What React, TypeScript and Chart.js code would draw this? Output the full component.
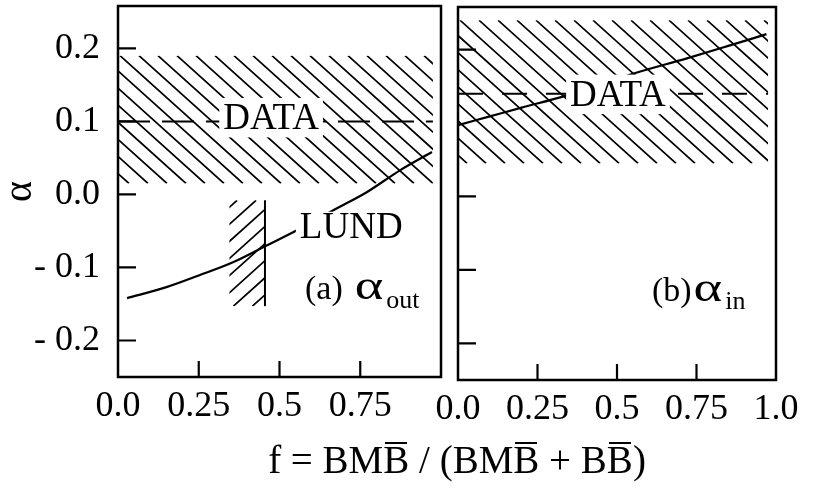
import React, { useEffect, useRef } from 'react';
import { Chart, registerables } from 'chart.js';

Chart.register(...registerables);

const FONT = '"Liberation Serif", "Times New Roman", serif';

// ---------- data ----------
const xTicksOut = [0, 0.25, 0.5, 0.75];
const xTickLabelsOut = ['0.0', '0.25', '0.5', '0.75'];
const xTicksIn = [0, 0.25, 0.5, 0.75, 1.0];
const xTickLabelsIn = ['0.0', '0.25', '0.5', '0.75', '1.0'];
const yTicks = [-0.2, -0.1, 0.0, 0.1, 0.2];
const yTickLabels = ['- 0.2', '- 0.1', '0.0', '0.1', '0.2'];
const yTickMarksIn = [-0.2, -0.1, 0.0, 0.2];

// LUND prediction, panel (a) alpha_out
const lundOutF = [0.028, 0.15, 0.25, 0.356, 0.46, 0.554, 0.678, 0.77, 0.873, 0.972];
const lundOutAlpha = [-0.142, -0.127, -0.111, -0.093, -0.07, -0.049, -0.019, 0.003, 0.033, 0.058];
// LUND prediction, panel (b) alpha_in
const lundInF = [0.0, 0.1, 0.2, 0.33, 0.45, 0.55, 0.72, 0.85, 0.97];
const lundInAlpha = [0.097, 0.109, 0.121, 0.136, 0.152, 0.167, 0.188, 0.205, 0.221];

// measured DATA bands (low, high) and central values
const dataOutBand = [0.015, 0.19];
const dataOutValue = 0.1;
const dataInBand = [0.045, 0.24];
const dataInValue = 0.14;
const dataFRange = [0, 0.975];

// hatched f-range in panel (a)
const cutF = [0.345, 0.455];
const cutAlpha = [-0.153, -0.008];

// ---------- helpers ----------
type Run = { text: string; size: number; gap?: number; dy?: number; sx?: number };
type Label = { runs: Run[]; f: number; a: number; align: 'left' | 'center'; box?: boolean; padTop?: number };

function hatch(ctx: CanvasRenderingContext2D, x0: number, y0: number, x1: number, y1: number, spacing: number, slope: number, dir: 1 | -1, phase: number) {
  ctx.save();
  ctx.beginPath();
  ctx.rect(x0, y0, x1 - x0, y1 - y0);
  ctx.clip();
  ctx.beginPath();
  const h = y1 - y0;
  const run = h / slope;
  const start = x0 + phase - Math.ceil((run + spacing) / spacing) * spacing;
  for (let c = start; c < x1 + run + spacing; c += spacing) {
    if (dir === 1) {
      ctx.moveTo(c, y0);
      ctx.lineTo(c + run, y1);
    } else {
      ctx.moveTo(c, y1);
      ctx.lineTo(c + run, y0);
    }
  }
  ctx.lineWidth = 1.7;
  ctx.strokeStyle = '#000';
  ctx.stroke();
  ctx.restore();
}

function makeDecor(p: any) {
  return {
    id: 'decor',
    beforeDatasetsDraw(chart: any) {
      const { ctx } = chart;
      const xs = chart.scales.x;
      const ys = chart.scales.y;
      hatch(ctx, xs.getPixelForValue(dataFRange[0]), ys.getPixelForValue(p.band[1]), xs.getPixelForValue(dataFRange[1]), ys.getPixelForValue(p.band[0]), 19, 0.9, 1, 2);
      if (p.cut) {
        hatch(ctx, xs.getPixelForValue(cutF[0]), ys.getPixelForValue(cutAlpha[1]), xs.getPixelForValue(cutF[1]), ys.getPixelForValue(cutAlpha[0]), 19, 0.9, -1, 4);
      }
    },
    afterDatasetsDraw(chart: any) {
      const { ctx, chartArea } = chart;
      const xs = chart.scales.x;
      const ys = chart.scales.y;
      ctx.save();
      // labels
      for (const lb of p.labels as Label[]) {
        let total = 0;
        for (const r of lb.runs) {
          ctx.font = `${r.size}px ${FONT}`;
          total += (r.gap || 0) + ctx.measureText(r.text).width * (r.sx || 1);
        }
        let x = xs.getPixelForValue(lb.f) - (lb.align === 'center' ? total / 2 : 0);
        const y = ys.getPixelForValue(lb.a);
        if (lb.box) {
          const capH = lb.runs[0].size * 0.662;
          const pt = lb.padTop ?? 7;
          ctx.fillStyle = '#fff';
          ctx.fillRect(x - 4, y - capH - pt, total + 8, capH + pt + 8);
        }
        ctx.fillStyle = '#000';
        ctx.textBaseline = 'alphabetic';
        ctx.textAlign = 'left';
        for (const r of lb.runs) {
          ctx.font = `${r.size}px ${FONT}`;
          x += r.gap || 0;
          const sx = r.sx || 1;
          ctx.save();
          ctx.translate(x, y + (r.dy || 0));
          ctx.scale(sx, 1);
          ctx.fillText(r.text, 0, 0);
          ctx.restore();
          x += ctx.measureText(r.text).width * sx;
        }
      }
      // frame
      ctx.strokeStyle = '#000';
      ctx.lineWidth = 2.5;
      ctx.strokeRect(chartArea.left, chartArea.top, chartArea.right - chartArea.left, chartArea.bottom - chartArea.top);
      // inward tick marks
      ctx.lineWidth = 2.2;
      ctx.beginPath();
      for (const v of p.yMarks) {
        const py = ys.getPixelForValue(v);
        ctx.moveTo(chartArea.left, py);
        ctx.lineTo(chartArea.left + 18, py);
      }
      for (const v of p.xTicks) {
        if (v <= 0 || v >= 1) continue;
        const px = xs.getPixelForValue(v);
        ctx.moveTo(px, chartArea.bottom);
        ctx.lineTo(px, chartArea.bottom - 16);
      }
      ctx.stroke();
      ctx.restore();
    },
  };
}

function buildChart(canvas: HTMLCanvasElement, p: any) {
  const pts = (fs: number[], as: number[]) => fs.map((f, i) => ({ x: f, y: as[i] }));
  const line = (data: any[], extra: any = {}) => ({
    data,
    showLine: true,
    borderColor: '#000',
    borderWidth: 2.2,
    pointRadius: 0,
    fill: false,
    ...extra,
  });
  const datasets: any[] = [
    line(pts(p.lundF, p.lundA), { cubicInterpolationMode: 'monotone' }),
    line(pts(dataFRange, [p.value, p.value]), { borderDash: p.dash, borderWidth: 2 }),
  ];
  if (p.cut) datasets.push(line(pts([cutF[1], cutF[1]], cutAlpha), { borderWidth: 2 }));

  const tickFont = { family: FONT, size: 36 };
  return new Chart(canvas, {
    type: 'scatter',
    data: { datasets },
    plugins: [makeDecor(p)],
    options: {
      animation: false,
      responsive: false,
      events: [],
      layout: { padding: p.padding },
      plugins: { legend: { display: false }, tooltip: { enabled: false } },
      scales: {
        x: {
          type: 'linear',
          min: 0,
          max: 1,
          afterBuildTicks: (s: any) => { s.ticks = p.xTicks.map((v: number) => ({ value: v })); },
          afterFit: (s: any) => {
            s.height = 60;
            s.paddingLeft = 0;
            s.paddingRight = 0;
            s.paddingTop = 0;
            s.paddingBottom = 0;
          },
          ticks: {
            autoSkip: false,
            maxRotation: 0,
            padding: 8,
            color: '#000',
            font: tickFont,
            callback: (v: any) => {
              const i = p.xTicks.findIndex((t: number) => Math.abs(t - v) < 1e-9);
              return i >= 0 ? p.xLabels[i] : '';
            },
          },
          grid: { display: false, drawTicks: false },
          border: { display: false },
        },
        y: {
          type: 'linear',
          min: -0.25,
          max: 0.258,
          display: p.showY,
          afterBuildTicks: (s: any) => { s.ticks = yTicks.map((v) => ({ value: v })); },
          afterFit: (s: any) => {
            s.width = p.showY ? 118 : 0;
            s.paddingLeft = 0;
            s.paddingRight = 0;
            s.paddingTop = 0;
            s.paddingBottom = 0;
          },
          ticks: {
            autoSkip: false,
            padding: 18,
            color: '#000',
            font: { family: FONT, size: 36 },
            callback: (v: any) => {
              const i = yTicks.findIndex((t) => Math.abs(t - v) < 1e-9);
              return i >= 0 ? yTickLabels[i] : '';
            },
          },
          title: {
            display: p.showY,
            text: 'α',
            color: '#000',
            font: { family: FONT, size: 40, lineHeight: 1 },
            padding: { top: 0, bottom: 0 },
          },
          grid: { display: false, drawTicks: false },
          border: { display: false },
        },
      },
    } as any,
  });
}

const panelOut = {
  lundF: lundOutF,
  lundA: lundOutAlpha,
  band: dataOutBand,
  value: dataOutValue,
  dash: [32, 12],
  xTicks: xTicksOut,
  xLabels: xTickLabelsOut,
  yMarks: yTicks,
  showY: true,
  cut: true,
  padding: { left: 0, top: 6, right: 4, bottom: 54 },
  labels: [
    { runs: [{ text: 'DATA', size: 37 }], f: 0.474, a: 0.089, align: 'center', box: true },
    { runs: [{ text: 'LUND', size: 37 }], f: 0.563, a: -0.06, align: 'left', box: true, padTop: 2 },
    {
      runs: [
        { text: '(a)', size: 34 },
        { text: 'α', size: 42, gap: 12, sx: 1.3 },
        { text: 'out', size: 26, gap: 3, dy: 9 },
      ],
      f: 0.579,
      a: -0.1426,
      align: 'left',
    },
  ],
};

const panelIn = {
  lundF: lundInF,
  lundA: lundInAlpha,
  band: dataInBand,
  value: dataInValue,
  dash: [25, 19],
  xTicks: xTicksIn,
  xLabels: xTickLabelsIn,
  yMarks: yTickMarksIn,
  showY: false,
  cut: false,
  padding: { left: 28, top: 7, right: 43, bottom: 51 },
  labels: [
    { runs: [{ text: 'DATA', size: 37 }], f: 0.503, a: 0.123, align: 'center', box: true },
    {
      runs: [
        { text: '(b)', size: 34 },
        { text: 'α', size: 42, gap: 2, sx: 1.3 },
        { text: 'in', size: 26, gap: 3, dy: 8 },
      ],
      f: 0.61,
      a: -0.142,
      align: 'left',
    },
  ],
};

const Ob = ({ children }: { children: React.ReactNode }) => (
  <span style={{ position: 'relative' }}>
    {children}
    <span style={{ position: 'absolute', left: 2, right: 2, top: 4, borderTop: '2px solid #000' }} />
  </span>
);

export default function App() {
  const c1 = useRef<HTMLCanvasElement>(null);
  const c2 = useRef<HTMLCanvasElement>(null);
  useEffect(() => {
    const a = buildChart(c1.current!, panelOut);
    const b = buildChart(c2.current!, panelIn);
    return () => {
      a.destroy();
      b.destroy();
    };
  }, []);
  return (
    <div style={{ position: 'absolute', left: 0, top: 0, width: 819, height: 491, background: '#fff', overflow: 'hidden' }}>
      <canvas ref={c1} width={445} height={491} style={{ position: 'absolute', left: 0, top: 0 }} />
      <canvas ref={c2} width={389} height={491} style={{ position: 'absolute', left: 430, top: 0 }} />
      <div
        style={{
          position: 'absolute',
          left: 157,
          width: 600,
          top: 440,
          textAlign: 'center',
          fontFamily: FONT,
          fontSize: 39,
          lineHeight: '39px',
          color: '#000',
          whiteSpace: 'nowrap',
        }}
      >
        f = BM<Ob>B</Ob> / (BM<Ob>B</Ob> + B<Ob>B</Ob>)
      </div>
    </div>
  );
}
